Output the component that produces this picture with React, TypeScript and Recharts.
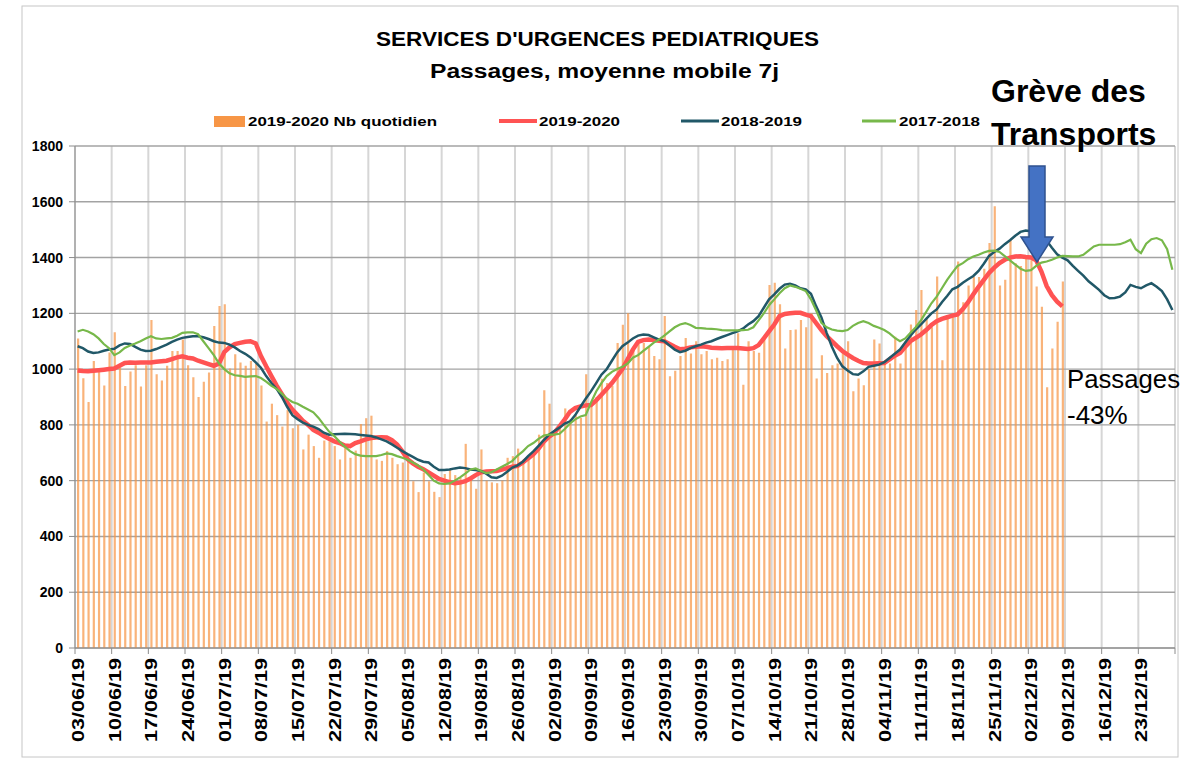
import React from 'react';
import { ComposedChart, Bar, Line, XAxis, YAxis, CartesianGrid } from 'recharts';

const FONT = '"Liberation Sans", Arial, sans-serif';

// Weekly tick labels (every 7 days starting 03/06/19)
const tickLabels = [
  '03/06/19', '10/06/19', '17/06/19', '24/06/19', '01/07/19', '08/07/19', '15/07/19', '22/07/19',
  '29/07/19', '05/08/19', '12/08/19', '19/08/19', '26/08/19', '02/09/19', '09/09/19', '16/09/19',
  '23/09/19', '30/09/19', '07/10/19', '14/10/19', '21/10/19', '28/10/19', '04/11/19', '11/11/19',
  '18/11/19', '25/11/19', '02/12/19', '09/12/19', '16/12/19', '23/12/19',
];

// 2019-2020 Nb quotidien (daily counts, 03/06/19 -> 08/12/19)
const dailyCounts = [
  1110, 967, 882, 1029, 994, 941, 1060,
  1132, 1006, 939, 991, 1014, 938, 1014,
  1176, 982, 959, 1012, 1065, 1065, 1106,
  1014, 971, 900, 955, 988, 1155, 1226,
  1233, 1002, 1053, 1024, 1012, 1029, 1018,
  941, 812, 876, 835, 794, 853, 788,
  800, 712, 765, 724, 682, 744, 741,
  724, 676, 718, 682, 708, 803, 824,
  833, 676, 671, 706, 682, 659, 665,
  694, 598, 559, 629, 598, 560, 541,
  624, 640, 620, 610, 732, 606, 571,
  712, 600, 594, 591, 600, 682, 688,
  715, 665, 680, 700, 765, 924, 876,
  780, 790, 859, 820, 835, 825, 982,
  870, 900, 965, 950, 940, 1094, 1159,
  1200, 1080, 1100, 1094, 1080, 1047, 1035,
  1190, 974, 994, 1047, 1112, 1056, 1100,
  1053, 1065, 1035, 1041, 1029, 1035, 1076,
  1129, 944, 1100, 1065, 1059, 1112, 1302,
  1310, 1233, 1074, 1140, 1142, 1176, 1150,
  1200, 966, 1050, 986, 1014, 1020, 1060,
  1100, 921, 966, 942, 1000, 1106, 1092,
  1030, 1020, 1116, 1020, 1100, 1160, 1212,
  1284, 1180, 1150, 1332, 1032, 1180, 1200,
  1386, 1240, 1300, 1330, 1330, 1360, 1452,
  1584, 1300, 1320, 1464, 1380, 1370, 1400,
  1390, 1296, 1224, 935, 1074, 1170, 1314,
];

// 2019-2020 moyenne mobile 7j
const season2019 = [
  995, 993, 992, 994, 996, 998, 1000,
  1002, 1012, 1022, 1024, 1023, 1024, 1024,
  1024, 1026, 1028, 1030, 1036, 1042, 1046,
  1041, 1038, 1030, 1024, 1018, 1012, 1020,
  1061, 1078, 1090, 1094, 1098, 1100, 1092,
  1047, 1010, 975, 941, 910, 880, 855,
  835, 815, 800, 782, 772, 760, 750,
  741, 735, 726, 724, 735, 741, 748,
  753, 755, 756, 755, 745, 729, 705,
  677, 662, 650, 641, 630, 618, 606,
  600, 595, 591, 593, 598, 608, 620,
  630, 633, 634, 635, 640, 645, 650,
  653, 665, 680, 694, 715, 740, 758,
  771, 795, 820, 847, 860, 866, 870,
  871, 888, 908, 929, 950, 975, 1000,
  1035, 1070, 1098, 1104, 1106, 1104, 1102,
  1100, 1090, 1080, 1071, 1073, 1078, 1080,
  1082, 1080, 1077, 1076, 1075, 1076, 1076,
  1076, 1074, 1072, 1075, 1086, 1110, 1135,
  1160, 1190, 1198, 1200, 1202, 1202, 1195,
  1190, 1165, 1140, 1118, 1100, 1082, 1065,
  1052, 1040, 1030, 1022, 1020, 1020, 1021,
  1022, 1035, 1048, 1058, 1080, 1100, 1112,
  1124, 1140, 1158, 1172, 1180, 1186, 1192,
  1196, 1215, 1240, 1268, 1295, 1320, 1345,
  1364, 1380, 1392, 1400, 1404, 1405, 1402,
  1400, 1390, 1350, 1298, 1265, 1242, 1225,
];

// 2018-2019 moyenne mobile 7j
const season2018 = [
  1082, 1075, 1063, 1058, 1060, 1066, 1070,
  1073, 1085, 1092, 1090, 1080, 1070, 1065,
  1066, 1072, 1080, 1088, 1098, 1106, 1112,
  1115, 1118, 1118, 1114, 1108, 1100, 1095,
  1094, 1088, 1078, 1065, 1055, 1042, 1024,
  1005, 975, 950, 929, 900, 865, 835,
  820, 808, 800, 794, 785, 772, 765,
  766, 767, 768, 767, 766, 764, 762,
  760, 755, 748, 741, 730, 718, 706,
  695, 685, 675, 668, 665, 650, 638,
  638, 640, 644, 647, 645, 640, 638,
  635, 625, 612, 610, 618, 632, 647,
  655, 668, 688, 705, 725, 745, 765,
  778, 790, 805, 812, 835, 865, 894,
  920, 950, 980, 1000, 1030, 1060, 1082,
  1095, 1110, 1120, 1124, 1122, 1114, 1106,
  1100, 1085, 1070, 1061, 1066, 1075, 1082,
  1088, 1095, 1100, 1108, 1115, 1122, 1129,
  1135, 1145, 1160, 1172, 1190, 1220, 1250,
  1268, 1288, 1303, 1306, 1300, 1290, 1286,
  1270, 1225, 1185, 1130, 1080, 1040, 1010,
  995, 982, 980, 992, 1008, 1012, 1016,
  1025, 1040, 1055, 1070, 1095, 1120, 1142,
  1160, 1180, 1200, 1214, 1240, 1262, 1286,
  1295, 1310, 1322, 1334, 1352, 1378, 1406,
  1420, 1432, 1448, 1462, 1478, 1492, 1497,
  1494, 1490, 1484, 1460, 1435, 1412, 1400,
  1390, 1370, 1352, 1335, 1315, 1300, 1284,
  1265, 1254, 1255, 1260, 1275, 1302, 1295,
  1290, 1300, 1308, 1295, 1280, 1250, 1212,
];

// 2017-2018 moyenne mobile 7j
const season2017 = [
  1135, 1141, 1135, 1125, 1110, 1090, 1075,
  1050, 1060, 1076, 1085, 1092, 1100, 1110,
  1118, 1110, 1108, 1110, 1112, 1120, 1130,
  1132, 1132, 1125, 1100, 1075, 1050, 1020,
  1000, 985, 978, 976, 972, 974, 975,
  968, 955, 940, 929, 912, 894, 882,
  876, 865, 855, 845, 825, 800, 776,
  760, 740, 722, 706, 695, 690, 688,
  688, 688, 692, 698, 695, 688, 682,
  675, 665, 655, 640, 620, 600, 590,
  588, 590, 600, 612, 625, 640, 644,
  635, 627, 630, 640, 650, 660, 671,
  690, 705, 724, 735, 750, 762, 765,
  765, 768, 785, 805, 820, 830, 835,
  880, 920, 950, 975, 990, 1000, 1008,
  1020, 1041, 1050, 1065, 1080, 1095, 1106,
  1120, 1135, 1150, 1160, 1165, 1158, 1148,
  1147, 1145, 1144, 1143, 1140, 1139, 1139,
  1139, 1140, 1141, 1150, 1175, 1200, 1229,
  1250, 1272, 1290, 1300, 1295, 1288, 1280,
  1250, 1210, 1166, 1150, 1142, 1138, 1136,
  1140, 1155, 1165, 1172, 1165, 1155, 1148,
  1140, 1128, 1112, 1100, 1110, 1130, 1150,
  1175, 1205, 1236, 1260, 1290, 1320, 1346,
  1370, 1380, 1394, 1404, 1410, 1418, 1424,
  1425, 1420, 1405, 1390, 1375, 1360, 1352,
  1355, 1370, 1382, 1386, 1392, 1400, 1406,
  1405, 1404, 1404, 1410, 1425, 1440, 1446,
  1446, 1446, 1446, 1448, 1455, 1464, 1430,
  1416, 1450, 1466, 1470, 1462, 1430, 1356,
];

const yTicks = [0, 200, 400, 600, 800, 1000, 1200, 1400, 1600, 1800];
const DAYS = season2018.length;
const xTicks = Array.from({ length: tickLabels.length + 1 }, (_, i) => i * 7);

const rows = Array.from({ length: DAYS }, (_, i) => ({
  x: i + 0.5,
  bar: i < dailyCounts.length ? dailyCounts[i] : null,
  r: i < season2019.length ? season2019[i] : null,
  t: season2018[i],
  g: season2017[i],
}));

const XTick = (props: any) => {
  const { x, y, payload } = props;
  const label = tickLabels[Math.round(payload.value / 7)];
  if (!label) return null;
  return (
    <text
      x={x}
      y={y + 2}
      transform={`rotate(-90 ${x} ${y + 2})`}
      textAnchor="end"
      dy={9}
      fontSize={17}
      fontWeight="bold"
      fontFamily={FONT}
      fill="#000"
      textLength={84}
      lengthAdjust="spacingAndGlyphs"
    >
      {label}
    </text>
  );
};

const YTick = (props: any) => {
  const { y, payload } = props;
  return (
    <text x={63} y={y + 5} textAnchor="end" fontSize={14} fontWeight="bold" fontFamily={FONT} fill="#000">
      {payload.value}
    </text>
  );
};

export default function App() {
  return (
    <div style={{ position: 'relative', width: 1186, height: 759, background: '#fff', fontFamily: FONT }}>
      <style>{'body{margin:0;}'}</style>
      <ComposedChart width={1186} height={759} data={rows} margin={{ top: 146, right: 11, bottom: 0, left: 0 }}>
        <CartesianGrid horizontal={false} vertical stroke="#d6d6d6" strokeWidth={2} />
        <CartesianGrid vertical={false} horizontal stroke="#a3a3a3" strokeWidth={1.4} />
        <XAxis
          type="number"
          dataKey="x"
          domain={[0, DAYS]}
          ticks={xTicks}
          interval={0}
          tick={(p: any) => <XTick {...p} />}
          height={111}
          stroke="#8c8c8c"
          tickSize={6}
          allowDataOverflow
        />
        <YAxis
          domain={[0, 1800]}
          ticks={yTicks}
          interval={0}
          width={75}
          tick={(p: any) => <YTick {...p} />}
          stroke="#8c8c8c"
          tickSize={6}
        />
        <Bar dataKey="bar" fill="#F79646" fillOpacity={0.72} barSize={2.2} isAnimationActive={false} />
        <Line dataKey="r" type="linear" stroke="#FF5353" strokeWidth={4.5} dot={false} isAnimationActive={false} />
        <Line dataKey="t" type="linear" stroke="#215868" strokeWidth={2.5} dot={false} isAnimationActive={false} />
        <Line dataKey="g" type="linear" stroke="#77B84A" strokeWidth={2.2} dot={false} isAnimationActive={false} />
      </ComposedChart>
      <svg
        width={1186}
        height={759}
        style={{ position: 'absolute', left: 0, top: 0, pointerEvents: 'none' }}
        fontFamily={FONT}
      >
        <rect x={22} y={6} width={1156} height={751} fill="none" stroke="#c6c6c6" strokeWidth={1} />
        <text x={376} y={46} fontSize={21} fontWeight="bold" textLength={443} lengthAdjust="spacingAndGlyphs" fill="#000">
          SERVICES D'URGENCES PEDIATRIQUES
        </text>
        <text x={430} y={78} fontSize={20} fontWeight="bold" textLength={349} lengthAdjust="spacingAndGlyphs" fill="#000">
          Passages, moyenne mobile 7j
        </text>
        {/* legend */}
        <rect x={214} y={116} width={31} height={11} fill="#F79646" />
        <text x={248} y={126} fontSize={13} fontWeight="bold" textLength={189} lengthAdjust="spacingAndGlyphs">2019-2020 Nb quotidien</text>
        <line x1={499} y1={121} x2={537} y2={121} stroke="#FF5353" strokeWidth={4} />
        <text x={539} y={126} fontSize={13} fontWeight="bold" textLength={81} lengthAdjust="spacingAndGlyphs">2019-2020</text>
        <line x1={681} y1={121} x2={719} y2={121} stroke="#215868" strokeWidth={3} />
        <text x={721} y={126} fontSize={13} fontWeight="bold" textLength={81} lengthAdjust="spacingAndGlyphs">2018-2019</text>
        <line x1={862} y1={121} x2={896} y2={121} stroke="#77B84A" strokeWidth={3} />
        <text x={899} y={126} fontSize={13} fontWeight="bold" textLength={81} lengthAdjust="spacingAndGlyphs">2017-2018</text>
        {/* annotations */}
        <text x={991} y={102} fontSize={32} fontWeight="bold" fill="#000">Grève des</text>
        <text x={991} y={145} fontSize={32} fontWeight="bold" fill="#000">Transports</text>
        <polygon
          points="1029,166 1045,166 1045,237 1053,237 1037,262 1021,237 1029,237"
          fill="#4472C4"
          stroke="#2F528F"
          strokeWidth={1.5}
        />
        <text x={1067} y={388} fontSize={26} textLength={113} lengthAdjust="spacingAndGlyphs" fill="#000">Passages</text>
        <text x={1067} y={424} fontSize={26} fill="#000">-43%</text>
      </svg>
    </div>
  );
}
